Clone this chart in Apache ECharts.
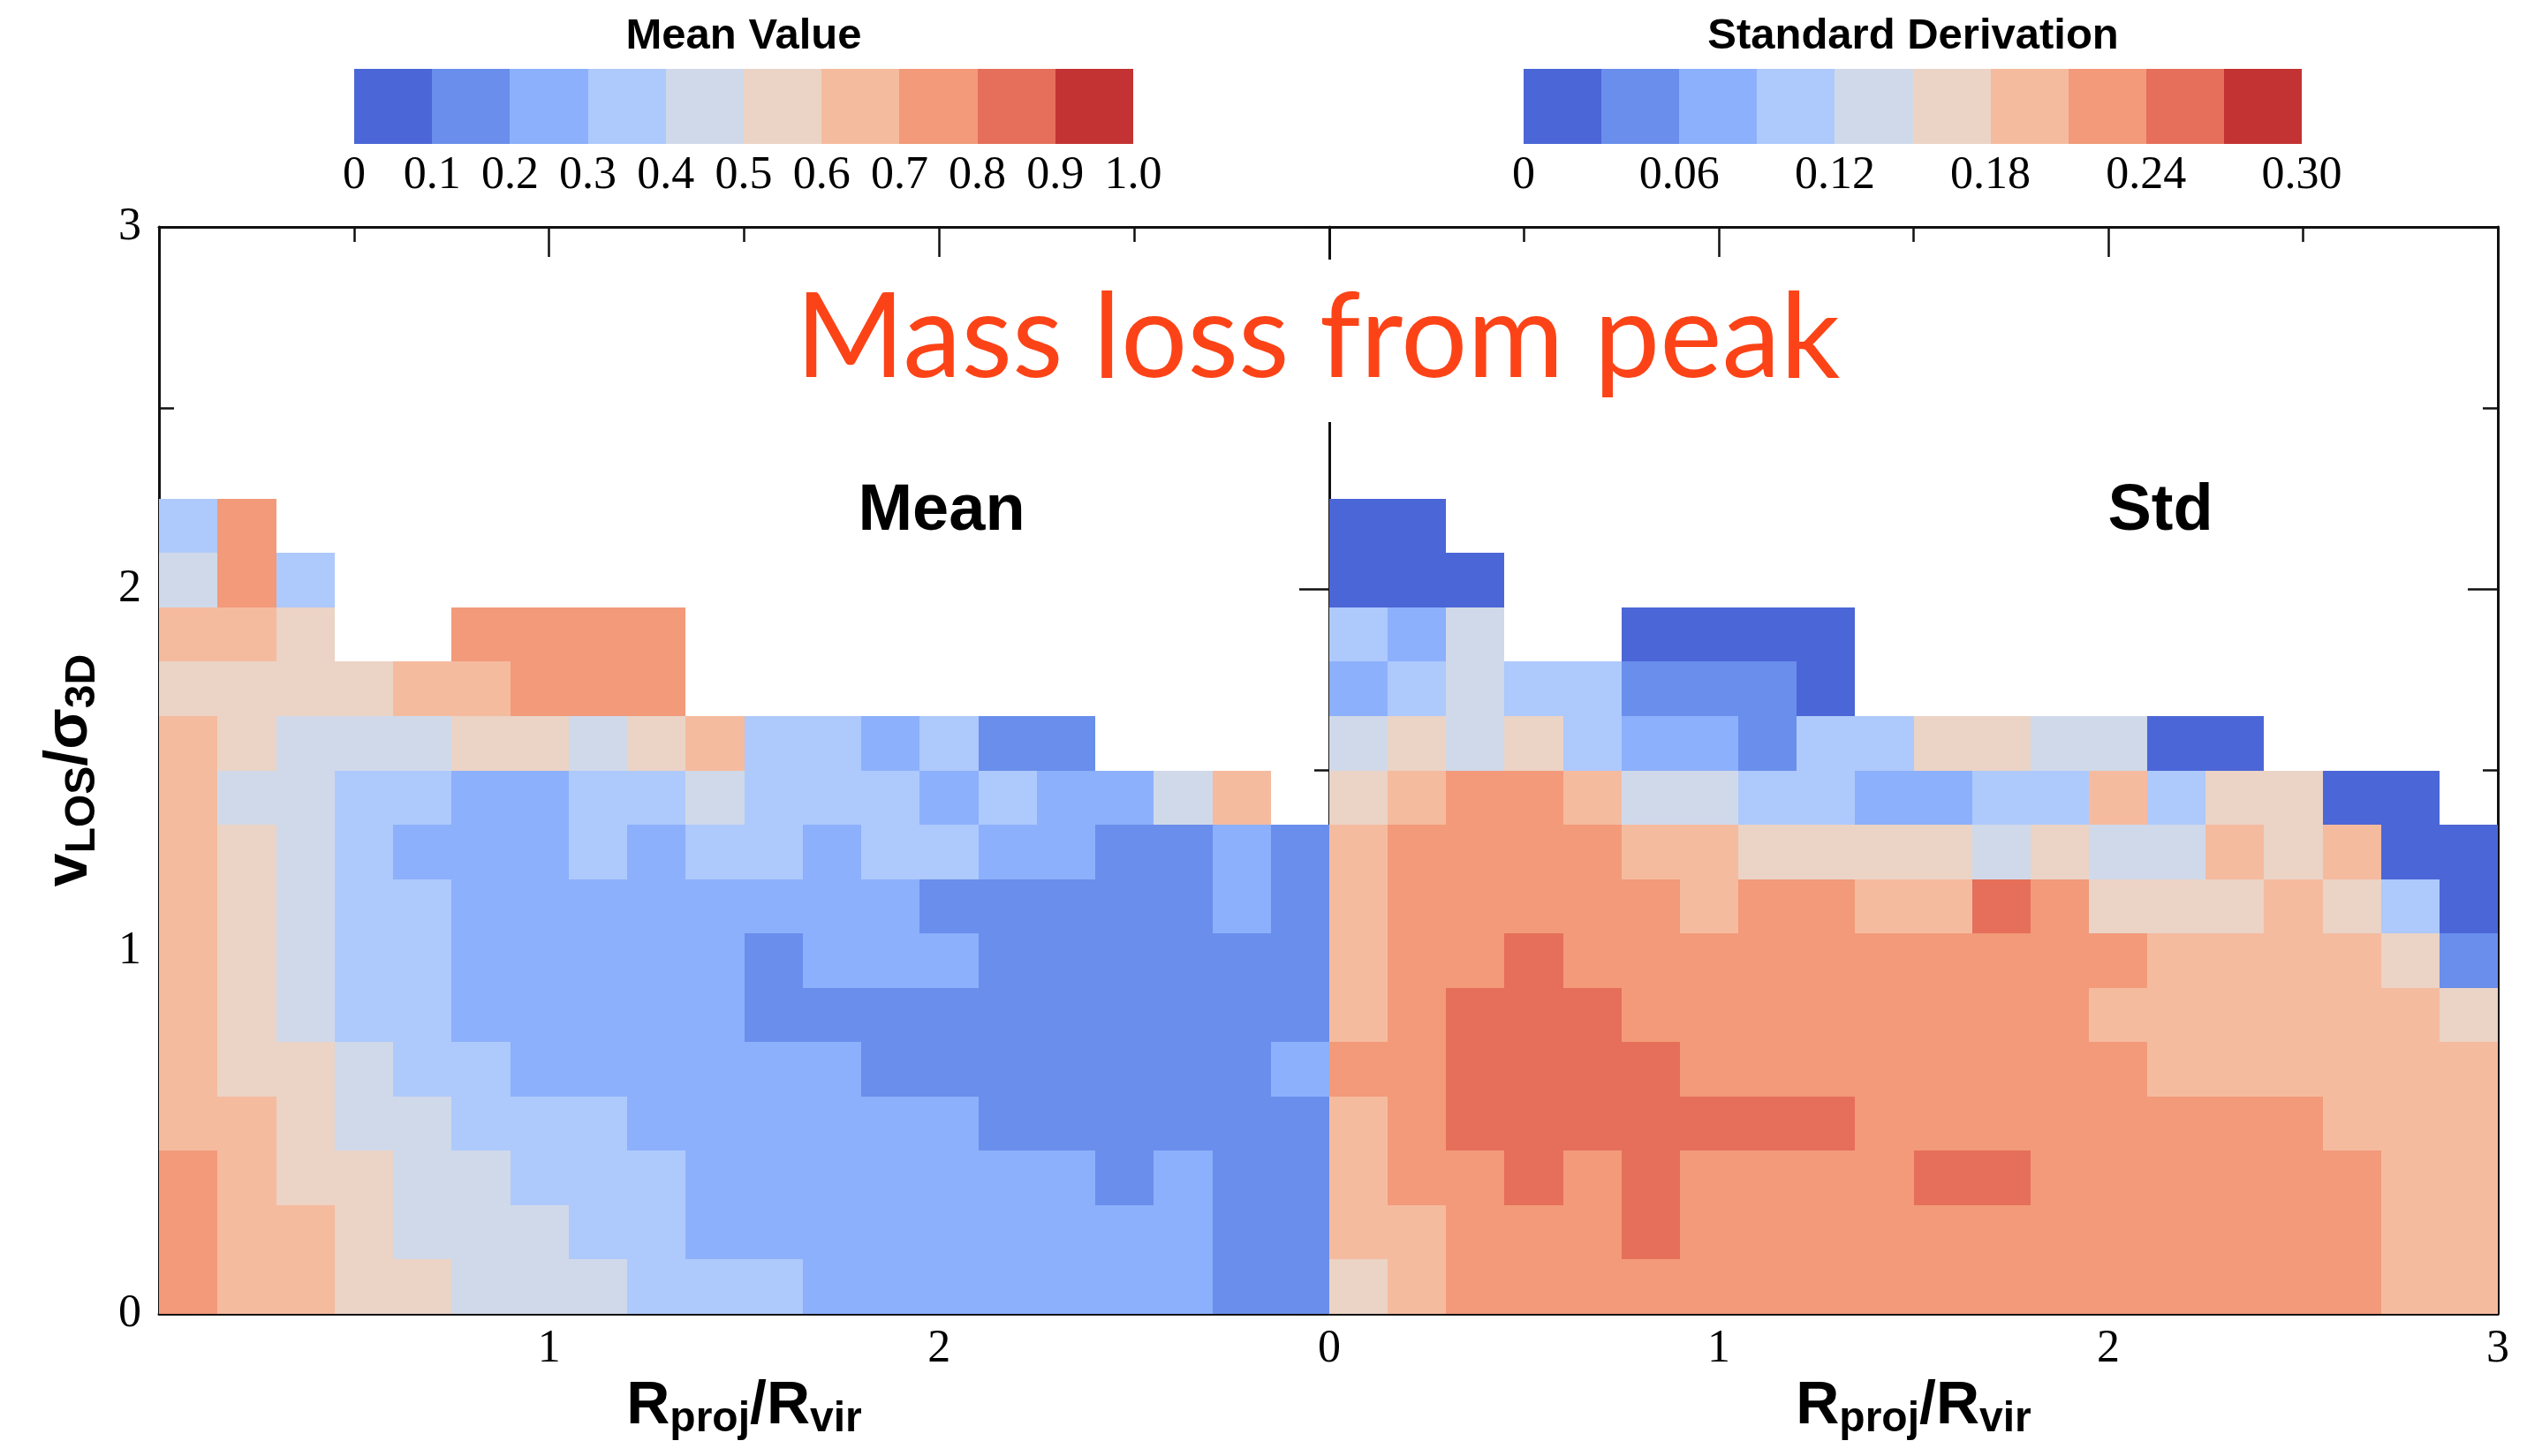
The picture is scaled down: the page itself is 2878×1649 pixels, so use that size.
<!DOCTYPE html>
<html>
<head>
<meta charset="utf-8">
<title>Mass loss from peak</title>
<script src="https://cdn.jsdelivr.net/npm/echarts@6/dist/echarts.min.js"></script>
<style>
  html, body { margin: 0; padding: 0; background: #fff; }
  #chart { width: 2878px; height: 1649px; }
</style>
</head>
<body>
<div id="chart"></div>
<script>
// bin edges of the histogram: R_proj/R_vir across, v_LOS/sigma_3D up
const rEdges = [0, 0.15, 0.3, 0.45, 0.6, 0.75, 0.9, 1.05, 1.2, 1.35, 1.5,
  1.65, 1.8, 1.95, 2.1, 2.25, 2.4, 2.55, 2.7, 2.85, 3.0];
const vEdges = [0, 0.15, 0.3, 0.45, 0.6, 0.75, 0.9, 1.05, 1.2, 1.35, 1.5,
  1.65, 1.8, 1.95, 2.1, 2.25];

// colour bar bins and labels
const meanEdges = [0, 0.1, 0.2, 0.3, 0.4, 0.5, 0.6, 0.7, 0.8, 0.9, 1.0];
const stdEdges = [0, 0.03, 0.06, 0.09, 0.12, 0.15, 0.18, 0.21, 0.24, 0.27, 0.30];
const meanBarLabels = ["0", "0.1", "0.2", "0.3", "0.4", "0.5", "0.6", "0.7", "0.8", "0.9", "1.0"];
const stdBarLabels = ["0", "0.06", "0.12", "0.18", "0.24", "0.30"];
const leftXLabels = ["", "1", "2", ""];
const rightXLabels = ["0", "1", "2", "3"];
const yLabels = ["0", "1", "2", "3"];

// mean mass loss per cell, top row first (v 2.10-2.25 ... 0-0.15), null = no haloes
const meanRows = [
  [0.35, 0.75],
  [0.45, 0.75, 0.35],
  [0.65, 0.65, 0.55, null, null, 0.75, 0.75, 0.75, 0.75],
  [0.55, 0.55, 0.55, 0.55, 0.65, 0.65, 0.75, 0.75, 0.75],
  [0.65, 0.55, 0.45, 0.45, 0.45, 0.55, 0.55, 0.45, 0.55, 0.65, 0.35, 0.35, 0.25, 0.35, 0.15, 0.15],
  [0.65, 0.45, 0.45, 0.35, 0.35, 0.25, 0.25, 0.35, 0.35, 0.45, 0.35, 0.35, 0.35, 0.25, 0.35, 0.25, 0.25, 0.45, 0.65],
  [0.65, 0.55, 0.45, 0.35, 0.25, 0.25, 0.25, 0.35, 0.25, 0.35, 0.35, 0.25, 0.35, 0.35, 0.25, 0.25, 0.15, 0.15, 0.25, 0.15],
  [0.65, 0.55, 0.45, 0.35, 0.35, 0.25, 0.25, 0.25, 0.25, 0.25, 0.25, 0.25, 0.25, 0.15, 0.15, 0.15, 0.15, 0.15, 0.25, 0.15],
  [0.65, 0.55, 0.45, 0.35, 0.35, 0.25, 0.25, 0.25, 0.25, 0.25, 0.15, 0.25, 0.25, 0.25, 0.15, 0.15, 0.15, 0.15, 0.15, 0.15],
  [0.65, 0.55, 0.45, 0.35, 0.35, 0.25, 0.25, 0.25, 0.25, 0.25, 0.15, 0.15, 0.15, 0.15, 0.15, 0.15, 0.15, 0.15, 0.15, 0.15],
  [0.65, 0.55, 0.55, 0.45, 0.35, 0.35, 0.25, 0.25, 0.25, 0.25, 0.25, 0.25, 0.15, 0.15, 0.15, 0.15, 0.15, 0.15, 0.15, 0.25],
  [0.65, 0.65, 0.55, 0.45, 0.45, 0.35, 0.35, 0.35, 0.25, 0.25, 0.25, 0.25, 0.25, 0.25, 0.15, 0.15, 0.15, 0.15, 0.15, 0.15],
  [0.75, 0.65, 0.55, 0.55, 0.45, 0.45, 0.35, 0.35, 0.35, 0.25, 0.25, 0.25, 0.25, 0.25, 0.25, 0.25, 0.15, 0.25, 0.15, 0.15],
  [0.75, 0.65, 0.65, 0.55, 0.45, 0.45, 0.45, 0.35, 0.35, 0.25, 0.25, 0.25, 0.25, 0.25, 0.25, 0.25, 0.25, 0.25, 0.15, 0.15],
  [0.75, 0.65, 0.65, 0.55, 0.55, 0.45, 0.45, 0.45, 0.35, 0.35, 0.35, 0.25, 0.25, 0.25, 0.25, 0.25, 0.25, 0.25, 0.15, 0.15],
];

// standard deviation per cell, same layout
const stdRows = [
  [0.015, 0.015],
  [0.015, 0.015, 0.015],
  [0.105, 0.075, 0.135, null, null, 0.015, 0.015, 0.015, 0.015],
  [0.075, 0.105, 0.135, 0.105, 0.105, 0.045, 0.045, 0.045, 0.015],
  [0.135, 0.165, 0.135, 0.165, 0.105, 0.075, 0.075, 0.045, 0.105, 0.105, 0.165, 0.165, 0.135, 0.135, 0.015, 0.015],
  [0.165, 0.195, 0.225, 0.225, 0.195, 0.135, 0.135, 0.105, 0.105, 0.075, 0.075, 0.105, 0.105, 0.195, 0.105, 0.165, 0.165, 0.015, 0.015],
  [0.195, 0.225, 0.225, 0.225, 0.225, 0.195, 0.195, 0.165, 0.165, 0.165, 0.165, 0.135, 0.165, 0.135, 0.135, 0.195, 0.165, 0.195, 0.015, 0.015],
  [0.195, 0.225, 0.225, 0.225, 0.225, 0.225, 0.195, 0.225, 0.225, 0.195, 0.195, 0.255, 0.225, 0.165, 0.165, 0.165, 0.195, 0.165, 0.105, 0.015],
  [0.195, 0.225, 0.225, 0.255, 0.225, 0.225, 0.225, 0.225, 0.225, 0.225, 0.225, 0.225, 0.225, 0.225, 0.195, 0.195, 0.195, 0.195, 0.165, 0.045],
  [0.195, 0.225, 0.255, 0.255, 0.255, 0.225, 0.225, 0.225, 0.225, 0.225, 0.225, 0.225, 0.225, 0.195, 0.195, 0.195, 0.195, 0.195, 0.195, 0.165],
  [0.225, 0.225, 0.255, 0.255, 0.255, 0.255, 0.225, 0.225, 0.225, 0.225, 0.225, 0.225, 0.225, 0.225, 0.195, 0.195, 0.195, 0.195, 0.195, 0.195],
  [0.195, 0.225, 0.255, 0.255, 0.255, 0.255, 0.255, 0.255, 0.255, 0.225, 0.225, 0.225, 0.225, 0.225, 0.225, 0.225, 0.225, 0.195, 0.195, 0.195],
  [0.195, 0.225, 0.225, 0.255, 0.225, 0.255, 0.225, 0.225, 0.225, 0.225, 0.255, 0.255, 0.225, 0.225, 0.225, 0.225, 0.225, 0.225, 0.195, 0.195],
  [0.195, 0.195, 0.225, 0.225, 0.225, 0.255, 0.225, 0.225, 0.225, 0.225, 0.225, 0.225, 0.225, 0.225, 0.225, 0.225, 0.225, 0.225, 0.195, 0.195],
  [0.165, 0.195, 0.225, 0.225, 0.225, 0.225, 0.225, 0.225, 0.225, 0.225, 0.225, 0.225, 0.225, 0.225, 0.225, 0.225, 0.225, 0.225, 0.195, 0.195],
];

// coolwarm, ten steps
const palette = ["#4b66d6", "#6a8eeb", "#8cb0fb", "#aec9fc", "#d0d9e9",
  "#ebd3c6", "#f5bb9f", "#f29a7a", "#e56f5a", "#c33334"];

const PLOT_LEFT = 180;
const PLOT_TOP = 257;
const PANEL_W = 1325;
const PLOT_H = 1231;
const GAP_END = 478; // the divider is blank above this (title box of the original)

function toCells(rows) {
  const out = [];
  rows.forEach((row, i) => {
    const j = rows.length - 1 - i;
    row.forEach((val, c) => {
      if (val == null) return;
      out.push([rEdges[c], vEdges[j], val, rEdges[c + 1], vEdges[j + 1]]);
    });
  });
  return out;
}

function toBar(edges) {
  return edges.slice(0, -1).map((e, i) => [e, edges[i + 1], (e + edges[i + 1]) / 2]);
}

function toPieces(edges) {
  return edges.slice(0, -1).map((e, i) => ({ gte: e, lt: edges[i + 1], color: palette[i] }));
}

function rectBetween(api, a, b) {
  const x = Math.round(Math.min(a[0], b[0]));
  const y = Math.round(Math.min(a[1], b[1]));
  return {
    type: "rect",
    shape: {
      x, y,
      width: Math.round(Math.max(a[0], b[0])) - x,
      height: Math.round(Math.max(a[1], b[1])) - y,
    },
    style: { fill: api.visual("color") },
  };
}

function renderCell(params, api) {
  const a = api.coord([api.value(0), api.value(1)]);
  const b = api.coord([api.value(3), api.value(4)]);
  return rectBetween(api, a, b);
}

function renderBarCell(params, api) {
  const a = api.coord([api.value(0), 0]);
  const b = api.coord([api.value(1), 1]);
  return rectBetween(api, a, b);
}

const ink = "#111";
const tickFont = { fontFamily: "Liberation Serif", fontSize: 52, color: "#000" };
const line = { show: true, onZero: false, lineStyle: { color: ink, width: 3 } };
const tickIn = { show: true, inside: true, length: 34, lineStyle: { color: ink, width: 2.5 } };
const minorIn = { show: true, splitNumber: 2, length: 17, lineStyle: { color: ink, width: 2.5 } };

const nameRich = {
  b: { fontFamily: "Liberation Sans", fontWeight: "bold", fontSize: 68, color: "#000" },
  s: { fontFamily: "Liberation Sans", fontWeight: "bold", fontSize: 48, color: "#000", padding: [30, 0, 0, 0] },
};
const rName = "{b|R}{s|proj}{b|/R}{s|vir}";

function frameX(gridIndex, position, labels, withName) {
  return {
    type: "value", gridIndex, position, min: 0, max: 3, interval: 1,
    axisLine: line, axisTick: tickIn, minorTick: minorIn,
    splitLine: { show: false },
    axisLabel: labels
      ? Object.assign({ show: true, margin: 14, formatter: (v, i) => labels[i] }, tickFont)
      : { show: false },
    name: withName ? rName : "",
    nameLocation: "middle",
    nameGap: 60,
    nameTextStyle: { rich: nameRich },
  };
}

function frameY(gridIndex, position, labels, showLine) {
  return {
    type: "value", gridIndex, position, min: 0, max: 3, interval: 1,
    axisLine: Object.assign({}, line, { show: showLine }),
    axisTick: tickIn, minorTick: minorIn,
    splitLine: { show: false },
    axisLabel: labels
      ? Object.assign({ show: true, margin: 20, formatter: (v, i) => labels[i] }, tickFont)
      : { show: false },
  };
}

function barX(gridIndex, max, interval, labels) {
  return {
    type: "value", gridIndex, min: 0, max, interval,
    axisLine: { show: false }, axisTick: { show: false }, splitLine: { show: false },
    axisLabel: { show: true, margin: 10, fontFamily: "Liberation Serif", fontSize: 52, color: "#000",
      formatter: (v, i) => labels[i] },
  };
}

const boldTitle = (text, x, top, size) => ({
  text, left: x, top, textAlign: "center", padding: 0,
  textStyle: { fontFamily: "Liberation Sans", fontWeight: "bold", fontSize: size, color: "#000" },
});

const chart = echarts.init(document.getElementById("chart"), null, { renderer: "canvas" });

const yName = {
  name: "{b|v}{s|LOS}{b|/σ}{s|3D}",
  nameLocation: "middle",
  nameRotate: 90,
  nameGap: 62,
  nameTextStyle: { rich: nameRich },
};

chart.setOption({
  backgroundColor: "#fff",
  animation: false,
  title: [
    {
      text: "Mass loss from peak", left: 1492, top: 318, textAlign: "center", padding: 0,
      textStyle: { fontFamily: "Lato", fontWeight: "normal", fontSize: 133, color: "#fc4317" },
    },
    boldTitle("Mean", 1066, 543, 74),
    boldTitle("Std", 2446, 543, 74),
    boldTitle("Mean Value", 842, 17, 49),
    boldTitle("Standard Derivation", 2166, 17, 49),
  ],
  grid: [
    { left: PLOT_LEFT, top: PLOT_TOP, width: PANEL_W, height: PLOT_H },
    { left: PLOT_LEFT + PANEL_W, top: PLOT_TOP, width: PANEL_W - 2, height: PLOT_H },
    { left: 401, top: 78, width: 882, height: 85 },
    { left: 1725, top: 78, width: 881, height: 85 },
  ],
  xAxis: [
    frameX(0, "bottom", leftXLabels, true),
    frameX(0, "top", null, false),
    frameX(1, "bottom", rightXLabels, true),
    frameX(1, "top", null, false),
    barX(2, 1, 0.1, meanBarLabels),
    barX(3, 0.3, 0.06, stdBarLabels),
  ],
  yAxis: [
    Object.assign(frameY(0, "left", yLabels, true), yName),
    frameY(0, "right", null, true),
    frameY(1, "left", null, false),
    frameY(1, "right", null, true),
    { type: "value", gridIndex: 2, min: 0, max: 1, show: false },
    { type: "value", gridIndex: 3, min: 0, max: 1, show: false },
  ],
  visualMap: [
    { type: "piecewise", show: false, seriesIndex: [0, 2], dimension: 2, pieces: toPieces(meanEdges) },
    { type: "piecewise", show: false, seriesIndex: [1, 3], dimension: 2, pieces: toPieces(stdEdges) },
  ],
  graphic: [
    {
      // white patch under the title that breaks the panel divider, as in the original
      type: "rect", z: 3, silent: true,
      shape: { x: PLOT_LEFT + PANEL_W - 20, y: PLOT_TOP + 37, width: 40, height: GAP_END - PLOT_TOP - 37 },
      style: { fill: "#fff" },
    },
  ],
  series: [
    {
      name: "Mean", type: "custom", xAxisIndex: 0, yAxisIndex: 0, silent: true,
      renderItem: renderCell, encode: { x: [0, 3], y: [1, 4] }, data: toCells(meanRows), z: 1,
    },
    {
      name: "Std", type: "custom", xAxisIndex: 2, yAxisIndex: 2, silent: true,
      renderItem: renderCell, encode: { x: [0, 3], y: [1, 4] }, data: toCells(stdRows), z: 1,
    },
    {
      name: "Mean Value", type: "custom", xAxisIndex: 4, yAxisIndex: 4, silent: true,
      renderItem: renderBarCell, encode: { x: [0, 1] }, data: toBar(meanEdges),
    },
    {
      name: "Standard Derivation", type: "custom", xAxisIndex: 5, yAxisIndex: 5, silent: true,
      renderItem: renderBarCell, encode: { x: [0, 1] }, data: toBar(stdEdges),
    },
  ],
});

window.addEventListener("resize", () => chart.resize());
</script>
</body>
</html>
